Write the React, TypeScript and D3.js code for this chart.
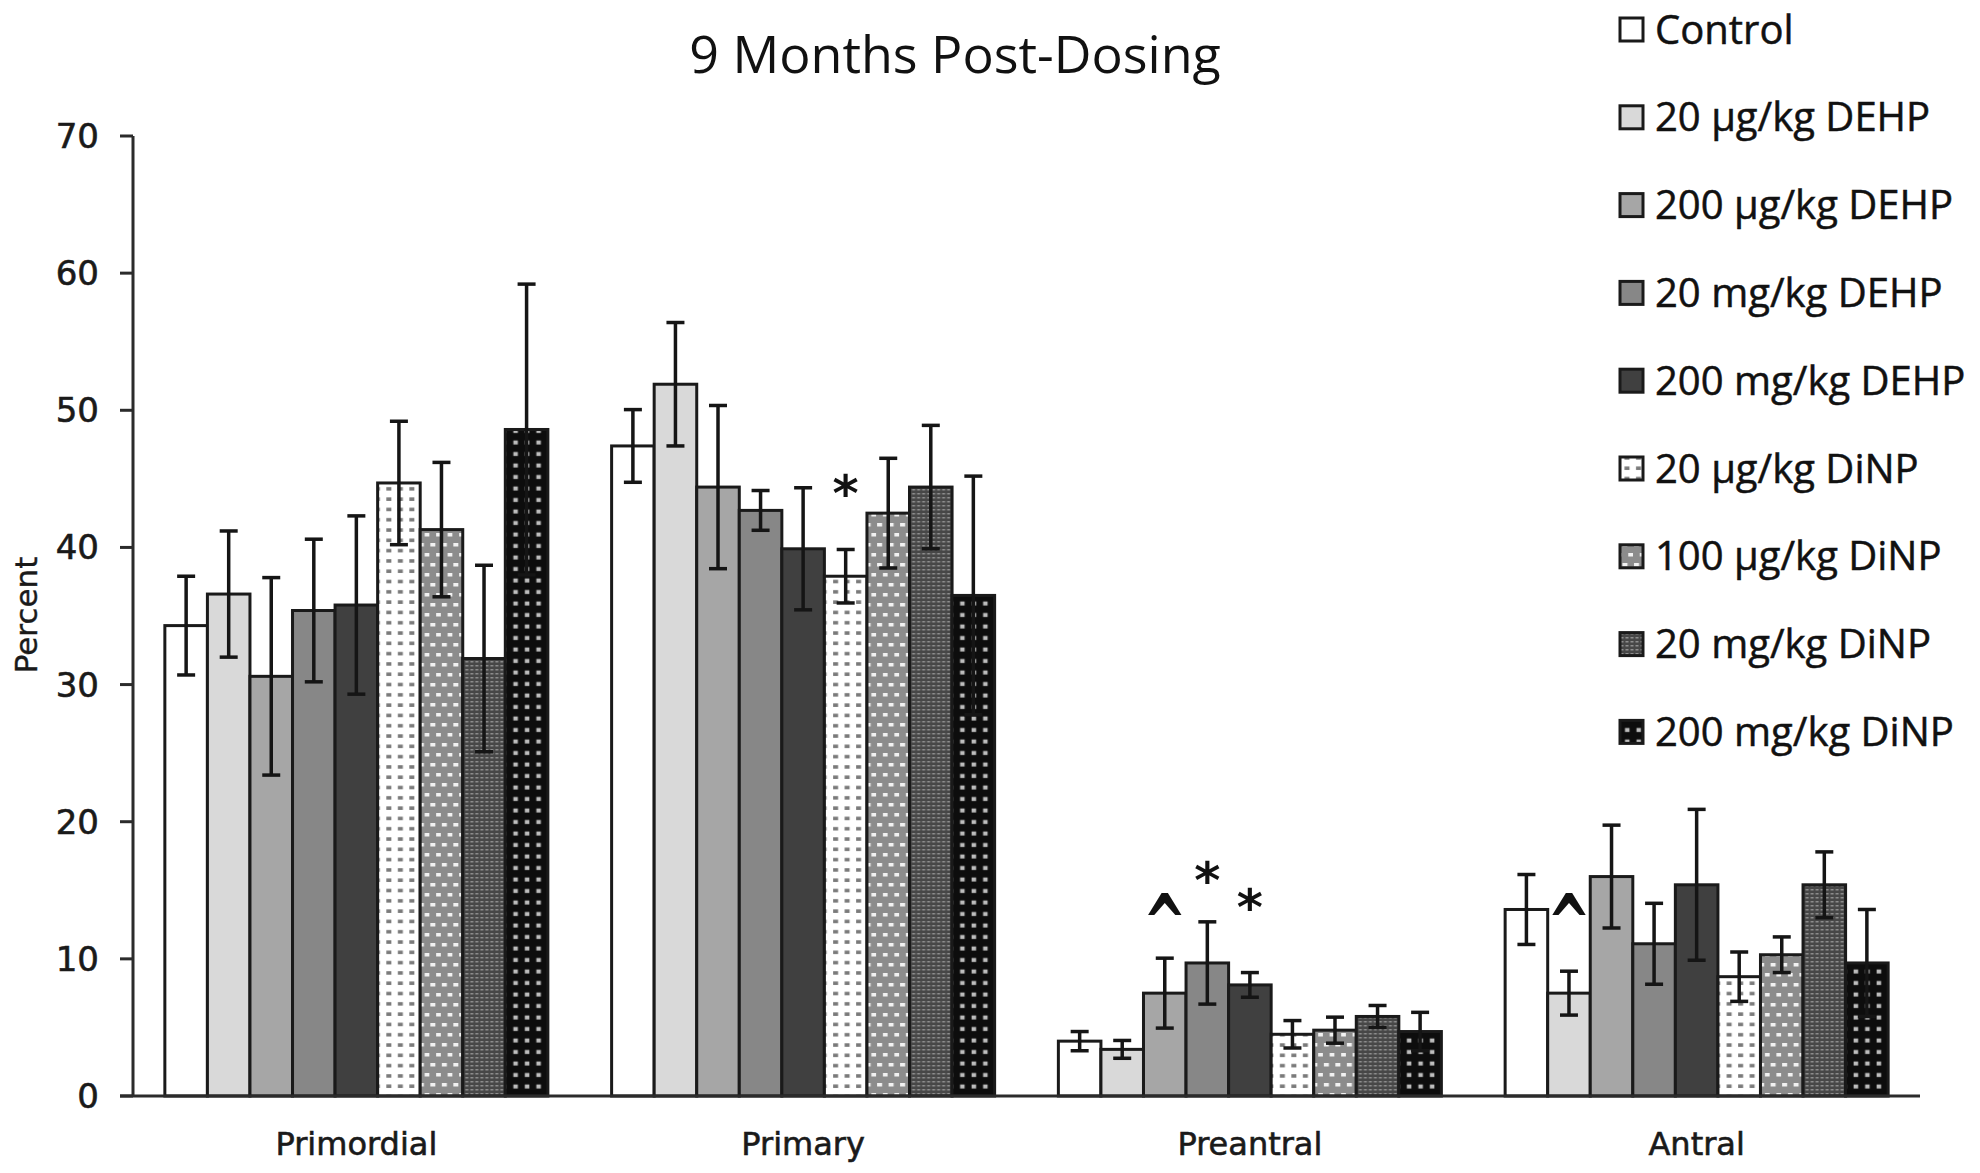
import * as d3 from "d3";
import React from "react";

const width = 1980;
const height = 1173;

const categories = ["Primordial", "Primary", "Preantral", "Antral"];
const series = [
  "Control",
  "20 µg/kg DEHP",
  "200 µg/kg DEHP",
  "20 mg/kg DEHP",
  "200 mg/kg DEHP",
  "20 µg/kg DiNP",
  "100 µg/kg DiNP",
  "20 mg/kg DiNP",
  "200 mg/kg DiNP",
];

// mean and error per category, one value per series
const primordialMean = [34.3, 36.6, 30.6, 35.4, 35.8, 44.7, 41.3, 31.9, 48.6];
const primordialErr = [3.6, 4.6, 7.2, 5.2, 6.5, 4.5, 4.9, 6.8, 10.6];
const primaryMean = [47.4, 51.9, 44.4, 42.7, 39.9, 37.9, 42.5, 44.4, 36.5];
const primaryErr = [2.65, 4.5, 5.95, 1.45, 4.45, 1.95, 4.0, 4.5, 8.7];
const preantralMean = [4.0, 3.4, 7.5, 9.7, 8.1, 4.5, 4.8, 5.8, 4.7];
const preantralErr = [0.7, 0.65, 2.55, 3.0, 0.9, 1.0, 0.95, 0.8, 1.4];
const antralMean = [13.6, 7.5, 16.0, 11.1, 15.4, 8.7, 10.3, 15.4, 9.7];
const antralErr = [2.55, 1.6, 3.75, 2.95, 5.5, 1.8, 1.3, 2.4, 3.9];

const yTicks = [0, 10, 20, 30, 40, 50, 60, 70];

// significance marks: [category, series index, symbol, value at mark centre]
const marks: [string, number, string, number][] = [
  ["Primary", 5, "*", 44.6],
  ["Preantral", 2, "^", 13.8],
  ["Preantral", 3, "*", 16.4],
  ["Preantral", 4, "*", 14.4],
  ["Antral", 1, "^", 13.8],
];

const means = [primordialMean, primaryMean, preantralMean, antralMean];
const errs = [primordialErr, primaryErr, preantralErr, antralErr];

const fills = [
  "#ffffff",
  "#d9d9d9",
  "#a6a6a6",
  "#878787",
  "#404040",
  "url(#p5)",
  "url(#p6)",
  "url(#p7)",
  "url(#p8)",
];

const margin = { top: 136, right: 60, bottom: 77, left: 133 };

export default function App() {
  const x0 = d3
    .scaleBand()
    .domain(categories)
    .range([margin.left, width - margin.right])
    .paddingInner(0.1427)
    .paddingOuter(0.0713);
  const x1 = d3
    .scaleBand()
    .domain(series)
    .range([0, x0.bandwidth()]);
  const y = d3
    .scaleLinear()
    .domain([0, 70])
    .range([height - margin.bottom, margin.top]);

  const capW = 18;
  const tickFont = "DejaVu Sans, sans-serif";

  return (
    <div style={{ position: "absolute", left: 0, top: 0 }}>
      <svg width={width} height={height} style={{ display: "block", background: "#fff" }}>
        <defs>
          <pattern id="p5" width={11.5} height={10.3} patternUnits="userSpaceOnUse">
            <rect width={11.5} height={10.3} fill="#fff" />
            <rect x={3} y={3} width={5} height={3.5} fill="#7a7a7a" />
          </pattern>
          <pattern id="p6" width={11.5} height={20} patternUnits="userSpaceOnUse">
            <rect width={11.5} height={20} fill="#8c8c8c" />
            <rect x={1} y={3} width={5} height={3.5} fill="#f2f2f2" />
            <rect x={6.8} y={13} width={5} height={3.5} fill="#f2f2f2" />
          </pattern>
          <pattern id="p7" width={5} height={4} patternUnits="userSpaceOnUse">
            <rect width={5} height={4} fill="#474747" />
            <rect x={0.5} y={1} width={3} height={1.5} fill="#8e8e8e" />
          </pattern>
          <pattern id="p8" width={11.5} height={11.5} patternUnits="userSpaceOnUse">
            <rect width={11.5} height={11.5} fill="#0d0d0d" />
            <rect x={3.5} y={3.5} width={4.5} height={4} fill="#bdbdbd" />
          </pattern>
        </defs>

        <text
          x={955}
          y={73}
          textAnchor="middle"
          fontFamily="Open Sans, sans-serif"
          fontSize={52}
          fill="#111"
        >
          9 Months Post-Dosing
        </text>

        {/* y axis */}
        <line x1={margin.left} x2={margin.left} y1={y(70)} y2={y(0)} stroke="#2b2b2b" strokeWidth={3} />
        {yTicks.map((t) => (
          <g key={t}>
            <line x1={margin.left - 13} x2={margin.left} y1={y(t)} y2={y(t)} stroke="#2b2b2b" strokeWidth={3} />
            <text
              x={99}
              y={y(t) + 12}
              textAnchor="end"
              fontFamily={tickFont}
              fontSize={34}
              fill="#1a1a1a"
              stroke="#1a1a1a"
              strokeWidth={0.6}
            >
              {t}
            </text>
          </g>
        ))}
        <text
          transform={`translate(37,615) rotate(-90)`}
          textAnchor="middle"
          fontFamily={tickFont}
          fontSize={31}
          fill="#1a1a1a"
          stroke="#1a1a1a"
          strokeWidth={0.4}
        >
          Percent
        </text>

        {/* bars */}
        {categories.map((c, ci) => (
          <g key={c} transform={`translate(${x0(c)},0)`}>
            {series.map((s, si) => {
              const v = means[ci][si];
              const e = errs[ci][si];
              const bx = x1(s) as number;
              const cx = bx + x1.bandwidth() / 2;
              return (
                <g key={s}>
                  <rect
                    x={bx}
                    y={y(v)}
                    width={x1.bandwidth()}
                    height={y(0) - y(v)}
                    fill={fills[si]}
                    stroke="#1a1a1a"
                    strokeWidth={3}
                  />
                  <line x1={cx} x2={cx} y1={y(v + e)} y2={y(v - e)} stroke="#151515" strokeWidth={3.5} />
                  <line x1={cx - capW / 2} x2={cx + capW / 2} y1={y(v + e)} y2={y(v + e)} stroke="#151515" strokeWidth={3.5} />
                  <line x1={cx - capW / 2} x2={cx + capW / 2} y1={y(v - e)} y2={y(v - e)} stroke="#151515" strokeWidth={3.5} />
                </g>
              );
            })}
          </g>
        ))}

        {/* x axis */}
        <line x1={margin.left - 13} x2={width - margin.right} y1={y(0)} y2={y(0)} stroke="#2b2b2b" strokeWidth={3} />
        {categories.map((c) => (
          <text
            key={c}
            x={(x0(c) as number) + x0.bandwidth() / 2}
            y={1155}
            textAnchor="middle"
            fontFamily={tickFont}
            fontSize={32}
            fill="#1a1a1a"
            stroke="#1a1a1a"
            strokeWidth={0.6}
          >
            {c}
          </text>
        ))}

        {/* significance marks */}
        {marks.map(([c, si, sym, v], i) => {
          const cx = (x0(c) as number) + (x1(series[si]) as number) + x1.bandwidth() / 2;
          const fs = 50;
          if (sym === "^") {
            return (
              <g key={i} transform={`translate(${cx},${y(v)}) scale(1.05,1.6)`}>
                <text
                  y={0.57 * fs}
                  textAnchor="middle"
                  fontFamily={tickFont}
                  fontWeight="bold"
                  fontSize={fs}
                  fill="#111"
                >
                  {sym}
                </text>
              </g>
            );
          }
          return (
            <text
              key={i}
              x={cx}
              y={y(v) + 0.53 * fs}
              textAnchor="middle"
              fontFamily={tickFont}
              fontWeight="bold"
              fontSize={fs}
              fill="#111"
            >
              {sym}
            </text>
          );
        })}

        {/* legend */}
        {series.map((s, si) => {
          const cy = 29.5 + si * 87.8;
          return (
            <g key={s}>
              <rect x={1620} y={cy - 11.5} width={23} height={23} fill={fills[si]} stroke="#1a1a1a" strokeWidth={3} />
              <text
                x={1655}
                y={cy + 14}
                fontFamily="Open Sans, sans-serif"
                fontSize={40}
                fill="#111"
                stroke="#111"
                strokeWidth={0.5}
              >
                {s}
              </text>
            </g>
          );
        })}
      </svg>
    </div>
  );
}
